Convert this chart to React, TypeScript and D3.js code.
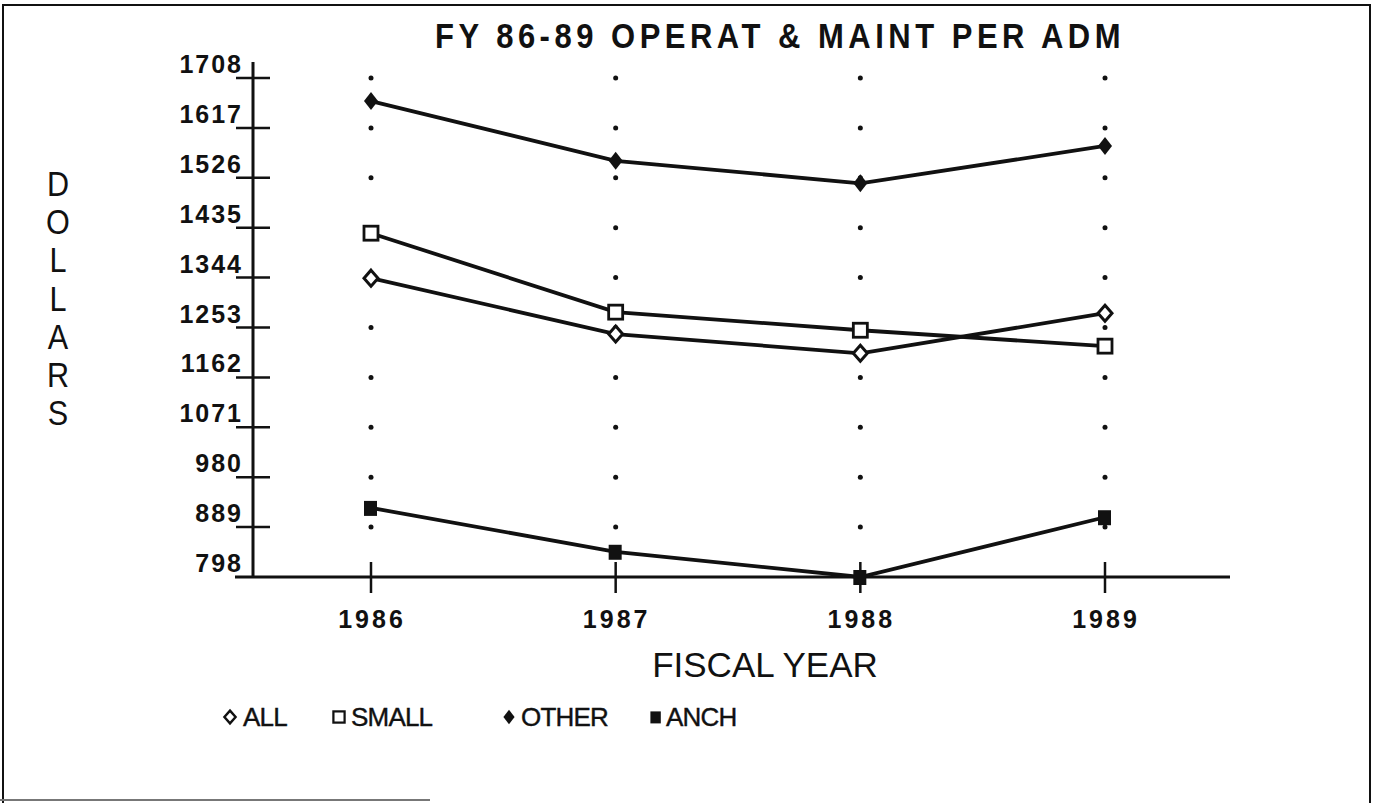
import * as d3 from "d3";

const years = ["1986", "1987", "1988", "1989"];
const yTicks = [798, 889, 980, 1071, 1162, 1253, 1344, 1435, 1526, 1617, 1708];

const allValues = [1343, 1241, 1206, 1279];
const smallValues = [1425, 1281, 1248, 1219];
const otherValues = [1666, 1557, 1516, 1584];
const anchValues = [924, 844, 798, 907];

const series = [
  { name: "ALL", values: allValues, marker: "openDiamond" },
  { name: "SMALL", values: smallValues, marker: "openSquare" },
  { name: "OTHER", values: otherValues, marker: "filledDiamond" },
  { name: "ANCH", values: anchValues, marker: "filledSquare" },
];

const W = 1375, H = 803;

function Marker({ kind, x, y }: { kind: string; x: number; y: number }) {
  if (kind === "openDiamond")
    return <path d={`M${x},${y - 8}L${x + 7},${y}L${x},${y + 8}L${x - 7},${y}Z`} fill="#fff" stroke="#111" strokeWidth={3} />;
  if (kind === "openSquare")
    return <rect x={x - 7} y={y - 7} width={14} height={14} fill="#fff" stroke="#111" strokeWidth={2.8} />;
  if (kind === "filledDiamond")
    return <path d={`M${x},${y - 9}L${x + 7},${y}L${x},${y + 9}L${x - 7},${y}Z`} fill="#111" />;
  return <rect x={x - 7} y={y - 7} width={13} height={15} fill="#111" />;
}

export default function App() {
  const x = d3.scalePoint<string>().domain(years).range([371, 1105]);
  const y = d3.scaleLinear().domain([798, 1708]).range([577, 78]);
  const line = d3.line<number>().x((_, i) => x(years[i]) as number).y(d => y(d));

  const font = "'Liberation Sans', Arial, Helvetica, sans-serif";
  const legendPos = [
    { mx: 230, tx: 243 },
    { mx: 339, tx: 351 },
    { mx: 509, tx: 521 },
    { mx: 656, tx: 666 },
  ];

  return (
    <svg width={W} height={H} style={{ position: "absolute", left: 0, top: 0, background: "#fff" }} fontFamily={font}>
      {/* frame */}
      <path d={`M3,${H}V5H1370V${H}`} fill="none" stroke="#111" strokeWidth={2} />
      <line x1={0} x2={430} y1={800} y2={800} stroke="#777" strokeWidth={2} />

      {/* title */}
      <text x={780} y={48} textAnchor="middle" fontSize={31} fontWeight="bold" letterSpacing={4.5} fill="#111"
        transform="translate(780,48) scale(1,1.12) translate(-780,-48)">
        FY 86-89 OPERAT &amp; MAINT PER ADM
      </text>

      {/* y axis */}
      <line x1={253} x2={253} y1={62} y2={y(798)} stroke="#111" strokeWidth={3} />
      {yTicks.map(t => (
        <g key={t}>
          {t !== 798 && <line x1={236} x2={270} y1={y(t)} y2={y(t)} stroke="#111" strokeWidth={2.5} />}
          <text x={243} y={y(t) - 5} textAnchor="end" fontSize={25} fontWeight="bold" letterSpacing={2} fill="#111">
            {t}
          </text>
        </g>
      ))}

      {/* x axis */}
      <line x1={235} x2={1230} y1={y(798)} y2={y(798)} stroke="#111" strokeWidth={3} />
      {years.map(yr => (
        <g key={yr}>
          <line x1={x(yr)} x2={x(yr)} y1={562} y2={593} stroke="#111" strokeWidth={2.5} />
          {yTicks.filter(t => t !== 798).map(t => (
            <circle key={t} cx={x(yr)} cy={y(t)} r={2.5} fill="#111" />
          ))}
          <text x={(x(yr) as number) + 1} y={628} textAnchor="middle" fontSize={25} fontWeight="bold" letterSpacing={3} fill="#111">
            {yr}
          </text>
        </g>
      ))}

      {/* axis titles */}
      <text x={765} y={677} textAnchor="middle" fontSize={35} fill="#111">FISCAL YEAR</text>
      {"DOLLARS".split("").map((c, i) => (
        <text key={i} x={58} y={196 + i * 38.2} textAnchor="middle" fontSize={36} fill="#111" transform={`translate(58,0) scale(0.85,1) translate(-58,0)`}>
          {c}
        </text>
      ))}

      {/* series */}
      {series.map(s => (
        <path key={s.name} d={line(s.values) || ""} fill="none" stroke="#111" strokeWidth={3.8} />
      ))}
      {series.map(s =>
        s.values.map((v, i) => <Marker key={s.name + i} kind={s.marker} x={x(years[i]) as number} y={y(v)} />)
      )}

      {/* legend */}
      {series.map((s, i) => (
        <g key={s.name}>
          <g transform={`translate(${legendPos[i].mx},717) scale(0.8)`}>
            <Marker kind={s.marker} x={0} y={0} />
          </g>
          <text x={legendPos[i].tx} y={726} fontSize={26} letterSpacing={-0.8} fill="#111" stroke="#111" strokeWidth={0.4}>{s.name}</text>
        </g>
      ))}
    </svg>
  );
}
